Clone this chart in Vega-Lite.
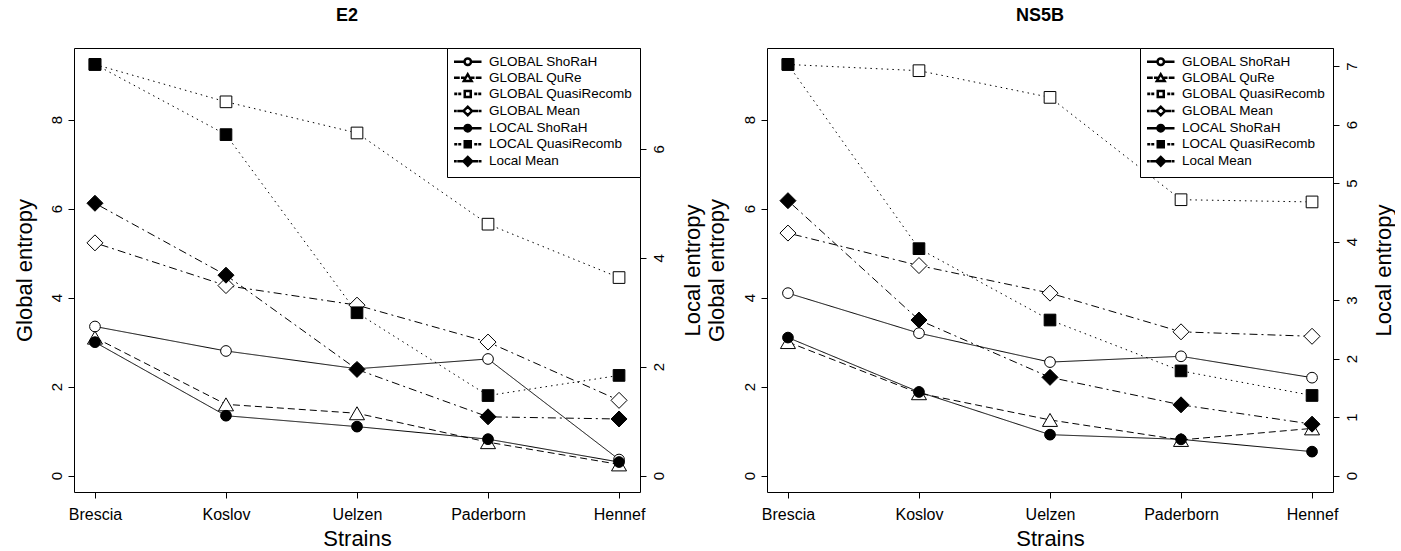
{
  "$schema": "https://vega.github.io/schema/vega-lite/v6.json",
  "background": "white",
  "padding": {"left": 12, "top": 6, "right": 0, "bottom": 0},
  "data": {"values": [
    {"gene":"E2","series":"GLOBAL ShoRaH","strain":"Brescia","value":3.35},
    {"gene":"E2","series":"GLOBAL ShoRaH","strain":"Koslov","value":2.8},
    {"gene":"E2","series":"GLOBAL ShoRaH","strain":"Uelzen","value":2.4},
    {"gene":"E2","series":"GLOBAL ShoRaH","strain":"Paderborn","value":2.62},
    {"gene":"E2","series":"GLOBAL ShoRaH","strain":"Hennef","value":0.36},
    {"gene":"E2","series":"GLOBAL QuRe","strain":"Brescia","value":3.1},
    {"gene":"E2","series":"GLOBAL QuRe","strain":"Koslov","value":1.6},
    {"gene":"E2","series":"GLOBAL QuRe","strain":"Uelzen","value":1.4},
    {"gene":"E2","series":"GLOBAL QuRe","strain":"Paderborn","value":0.75},
    {"gene":"E2","series":"GLOBAL QuRe","strain":"Hennef","value":0.25},
    {"gene":"E2","series":"GLOBAL QuasiRecomb","strain":"Brescia","value":9.24},
    {"gene":"E2","series":"GLOBAL QuasiRecomb","strain":"Koslov","value":8.4},
    {"gene":"E2","series":"GLOBAL QuasiRecomb","strain":"Uelzen","value":7.7},
    {"gene":"E2","series":"GLOBAL QuasiRecomb","strain":"Paderborn","value":5.65},
    {"gene":"E2","series":"GLOBAL QuasiRecomb","strain":"Hennef","value":4.45},
    {"gene":"E2","series":"GLOBAL Mean","strain":"Brescia","value":5.23},
    {"gene":"E2","series":"GLOBAL Mean","strain":"Koslov","value":4.27},
    {"gene":"E2","series":"GLOBAL Mean","strain":"Uelzen","value":3.83},
    {"gene":"E2","series":"GLOBAL Mean","strain":"Paderborn","value":3.0},
    {"gene":"E2","series":"GLOBAL Mean","strain":"Hennef","value":1.69},
    {"gene":"E2","series":"LOCAL ShoRaH","strain":"Brescia","value":2.45},
    {"gene":"E2","series":"LOCAL ShoRaH","strain":"Koslov","value":1.1},
    {"gene":"E2","series":"LOCAL ShoRaH","strain":"Uelzen","value":0.9},
    {"gene":"E2","series":"LOCAL ShoRaH","strain":"Paderborn","value":0.67},
    {"gene":"E2","series":"LOCAL ShoRaH","strain":"Hennef","value":0.25},
    {"gene":"E2","series":"LOCAL QuasiRecomb","strain":"Brescia","value":7.55},
    {"gene":"E2","series":"LOCAL QuasiRecomb","strain":"Koslov","value":6.26},
    {"gene":"E2","series":"LOCAL QuasiRecomb","strain":"Uelzen","value":2.99},
    {"gene":"E2","series":"LOCAL QuasiRecomb","strain":"Paderborn","value":1.47},
    {"gene":"E2","series":"LOCAL QuasiRecomb","strain":"Hennef","value":1.84},
    {"gene":"E2","series":"Local Mean","strain":"Brescia","value":5.0},
    {"gene":"E2","series":"Local Mean","strain":"Koslov","value":3.68},
    {"gene":"E2","series":"Local Mean","strain":"Uelzen","value":1.95},
    {"gene":"E2","series":"Local Mean","strain":"Paderborn","value":1.08},
    {"gene":"E2","series":"Local Mean","strain":"Hennef","value":1.04},
    {"gene":"NS5B","series":"GLOBAL ShoRaH","strain":"Brescia","value":4.1},
    {"gene":"NS5B","series":"GLOBAL ShoRaH","strain":"Koslov","value":3.2},
    {"gene":"NS5B","series":"GLOBAL ShoRaH","strain":"Uelzen","value":2.55},
    {"gene":"NS5B","series":"GLOBAL ShoRaH","strain":"Paderborn","value":2.68},
    {"gene":"NS5B","series":"GLOBAL ShoRaH","strain":"Hennef","value":2.2},
    {"gene":"NS5B","series":"GLOBAL QuRe","strain":"Brescia","value":3.0},
    {"gene":"NS5B","series":"GLOBAL QuRe","strain":"Koslov","value":1.85},
    {"gene":"NS5B","series":"GLOBAL QuRe","strain":"Uelzen","value":1.25},
    {"gene":"NS5B","series":"GLOBAL QuRe","strain":"Paderborn","value":0.8},
    {"gene":"NS5B","series":"GLOBAL QuRe","strain":"Hennef","value":1.06},
    {"gene":"NS5B","series":"GLOBAL QuasiRecomb","strain":"Brescia","value":9.24},
    {"gene":"NS5B","series":"GLOBAL QuasiRecomb","strain":"Koslov","value":9.1},
    {"gene":"NS5B","series":"GLOBAL QuasiRecomb","strain":"Uelzen","value":8.5},
    {"gene":"NS5B","series":"GLOBAL QuasiRecomb","strain":"Paderborn","value":6.2},
    {"gene":"NS5B","series":"GLOBAL QuasiRecomb","strain":"Hennef","value":6.15},
    {"gene":"NS5B","series":"GLOBAL Mean","strain":"Brescia","value":5.45},
    {"gene":"NS5B","series":"GLOBAL Mean","strain":"Koslov","value":4.72},
    {"gene":"NS5B","series":"GLOBAL Mean","strain":"Uelzen","value":4.1},
    {"gene":"NS5B","series":"GLOBAL Mean","strain":"Paderborn","value":3.23},
    {"gene":"NS5B","series":"GLOBAL Mean","strain":"Hennef","value":3.13},
    {"gene":"NS5B","series":"LOCAL ShoRaH","strain":"Brescia","value":2.36},
    {"gene":"NS5B","series":"LOCAL ShoRaH","strain":"Koslov","value":1.43},
    {"gene":"NS5B","series":"LOCAL ShoRaH","strain":"Uelzen","value":0.7},
    {"gene":"NS5B","series":"LOCAL ShoRaH","strain":"Paderborn","value":0.62},
    {"gene":"NS5B","series":"LOCAL ShoRaH","strain":"Hennef","value":0.41},
    {"gene":"NS5B","series":"LOCAL QuasiRecomb","strain":"Brescia","value":7.03},
    {"gene":"NS5B","series":"LOCAL QuasiRecomb","strain":"Koslov","value":3.88},
    {"gene":"NS5B","series":"LOCAL QuasiRecomb","strain":"Uelzen","value":2.66},
    {"gene":"NS5B","series":"LOCAL QuasiRecomb","strain":"Paderborn","value":1.79},
    {"gene":"NS5B","series":"LOCAL QuasiRecomb","strain":"Hennef","value":1.37},
    {"gene":"NS5B","series":"Local Mean","strain":"Brescia","value":4.7},
    {"gene":"NS5B","series":"Local Mean","strain":"Koslov","value":2.66},
    {"gene":"NS5B","series":"Local Mean","strain":"Uelzen","value":1.68},
    {"gene":"NS5B","series":"Local Mean","strain":"Paderborn","value":1.21},
    {"gene":"NS5B","series":"Local Mean","strain":"Hennef","value":0.88}
  ]},
  "spacing": 0,
  "hconcat": [
    {
      "width": 566, "height": 444,
      "title": {"text": "E2", "fontSize": 18, "fontWeight": "bold", "font": "Liberation Sans", "color": "black", "anchor": "middle", "frame": "group", "offset": 23, "dx": -10},
      "transform": [{"filter": "datum.gene === 'E2'"}],
      "encoding": {
        "x": {"field": "strain", "type": "ordinal", "sort": null,
              "scale": {"type": "point", "padding": 0.16, "domain": ["Brescia","Koslov","Uelzen","Paderborn","Hennef"]},
              "axis": {"title": "Strains", "labelAngle": 0, "tickSize": 6, "labelPadding": 8, "titlePadding": 6, "labelFontSize": 16, "titleFontSize": 22}}
      },
      "layer": [
        {
          "transform": [{"filter": "indexof(datum.series, 'GLOBAL') === 0"}],
          "encoding": {
            "y": {"field": "value", "type": "quantitative",
                  "scale": {"domain": [-0.37, 9.61], "nice": false, "zero": false},
                  "axis": {"orient": "left", "values": [0,2,4,6,8], "title": "Global entropy", "tickSize": 6, "labelAngle": 270, "labelAlign": "center", "labelBaseline": "alphabetic", "labelPadding": 7, "labelFontSize": 15, "titleFontSize": 22, "titleAngle": 270, "titleBaseline": "middle", "titleX": -50, "titleY": 222}}
          },
          "layer": [
            {"mark": {"type": "line", "color": "black", "strokeWidth": 1},
             "encoding": {"strokeDash": {"field": "series", "type": "nominal", "legend": null,
               "scale": {"domain": ["Local Mean","LOCAL QuasiRecomb","LOCAL ShoRaH","GLOBAL Mean","GLOBAL QuasiRecomb","GLOBAL QuRe","GLOBAL ShoRaH"],
                         "range": [[2,4,8,4],[1.5,4],[1,0],[2,4,8,4],[1.5,4],[7,4],[1,0]]}}}},
            {"mark": {"type": "point", "filled": true, "fill": "white", "stroke": "black", "strokeWidth": 1, "opacity": 1, "size": 256},
             "encoding": {
               "shape": {"field": "series", "type": "nominal", "legend": null,
                 "scale": {"domain": ["GLOBAL QuRe","GLOBAL ShoRaH","GLOBAL QuasiRecomb","GLOBAL Mean","LOCAL ShoRaH","LOCAL QuasiRecomb","Local Mean"],
                           "range": [
                             "M0,-0.81L-0.94,0.81L0.94,0.81Z",
                             "M0.67,0C0.67,0.37,0.37,0.67,0,0.67C-0.37,0.67,-0.67,0.37,-0.67,0C-0.67,-0.37,-0.37,-0.67,0,-0.67C0.37,-0.67,0.67,-0.37,0.67,0Z",
                             "M-0.73,-0.73L0.73,-0.73L0.73,0.73L-0.73,0.73Z",
                             "M-1,0L0,-1L1,0L0,1Z",
                             "M0.67,0C0.67,0.37,0.37,0.67,0,0.67C-0.37,0.67,-0.67,0.37,-0.67,0C-0.67,-0.37,-0.37,-0.67,0,-0.67C0.37,-0.67,0.67,-0.37,0.67,0Z",
                             "M-0.73,-0.73L0.73,-0.73L0.73,0.73L-0.73,0.73Z",
                             "M-1,0L0,-1L1,0L0,1Z"]}}
             }}
          ]
        },
        {
          "transform": [{"filter": "indexof(datum.series, 'GLOBAL') !== 0"}],
          "encoding": {
            "y": {"field": "value", "type": "quantitative",
                  "scale": {"domain": [-0.30, 7.85], "nice": false, "zero": false},
                  "axis": {"orient": "right", "values": [0,2,4,6], "title": "Local entropy", "tickSize": 6, "labelAngle": 270, "labelAlign": "center", "labelBaseline": "top", "labelPadding": 5, "labelFontSize": 15, "titleFontSize": 22, "titleAngle": 270, "titleBaseline": "middle", "titleX": 52, "titleY": 222}}
          },
          "layer": [
            {"mark": {"type": "line", "color": "black", "strokeWidth": 1},
             "encoding": {"strokeDash": {"field": "series", "type": "nominal", "legend": null,
               "scale": {"domain": ["Local Mean","LOCAL QuasiRecomb","LOCAL ShoRaH","GLOBAL Mean","GLOBAL QuasiRecomb","GLOBAL QuRe","GLOBAL ShoRaH"],
                         "range": [[2,4,8,4],[1.5,4],[1,0],[2,4,8,4],[1.5,4],[7,4],[1,0]]}}}},
            {"mark": {"type": "point", "filled": true, "fill": "black", "stroke": "black", "strokeWidth": 1, "opacity": 1, "size": 256},
             "encoding": {
               "shape": {"field": "series", "type": "nominal", "legend": null,
                 "scale": {"domain": ["GLOBAL QuRe","GLOBAL ShoRaH","GLOBAL QuasiRecomb","GLOBAL Mean","LOCAL ShoRaH","LOCAL QuasiRecomb","Local Mean"],
                           "range": [
                             "M0,-0.81L-0.94,0.81L0.94,0.81Z",
                             "M0.67,0C0.67,0.37,0.37,0.67,0,0.67C-0.37,0.67,-0.67,0.37,-0.67,0C-0.67,-0.37,-0.37,-0.67,0,-0.67C0.37,-0.67,0.67,-0.37,0.67,0Z",
                             "M-0.73,-0.73L0.73,-0.73L0.73,0.73L-0.73,0.73Z",
                             "M-1,0L0,-1L1,0L0,1Z",
                             "M0.67,0C0.67,0.37,0.37,0.67,0,0.67C-0.37,0.67,-0.67,0.37,-0.67,0C-0.67,-0.37,-0.37,-0.67,0,-0.67C0.37,-0.67,0.67,-0.37,0.67,0Z",
                             "M-0.73,-0.73L0.73,-0.73L0.73,0.73L-0.73,0.73Z",
                             "M-1,0L0,-1L1,0L0,1Z"]}}
             }}
          ]
        },
        {
          "transform": [{"filter": "false"}],
          "mark": {"type": "point", "filled": true, "stroke": "black", "strokeWidth": 1, "opacity": 1},
          "encoding": {
            "shape": {"field": "series", "type": "nominal",
              "scale": {"domain": ["GLOBAL ShoRaH","GLOBAL QuRe","GLOBAL QuasiRecomb","GLOBAL Mean","LOCAL ShoRaH","LOCAL QuasiRecomb","Local Mean"],
                        "range": [
                          "M-2.6,-0.1L-0.75,-0.1L-0.75,0.1L-2.6,0.1ZM0.75,-0.1L2.6,-0.1L2.6,0.1L0.75,0.1ZM0.75,0C0.75,0.414,0.414,0.75,0,0.75C-0.414,0.75,-0.75,0.414,-0.75,0C-0.75,-0.414,-0.414,-0.75,0,-0.75C0.414,-0.75,0.75,-0.414,0.75,0ZM0.55,0C0.55,-0.304,0.304,-0.55,0,-0.55C-0.304,-0.55,-0.55,-0.304,-0.55,0C-0.55,0.304,-0.304,0.55,0,0.55C0.304,0.55,0.55,0.304,0.55,0Z",
                          "M-2.6,-0.1L-1.75,-0.1L-1.75,0.1L-2.6,0.1ZM-1.2,-0.1L-0.75,-0.1L-0.75,0.1L-1.2,0.1ZM0.75,-0.1L1.2,-0.1L1.2,0.1L0.75,0.1ZM1.75,-0.1L2.6,-0.1L2.6,0.1L1.75,0.1ZM0,-0.9L0.95,0.72L-0.95,0.72ZM0,-0.55L-0.62,0.52L0.62,0.52Z",
                          "M-2.55,-0.12L-2.25,-0.12L-2.25,0.12L-2.55,0.12ZM-1.75,-0.12L-1.45,-0.12L-1.45,0.12L-1.75,0.12ZM1.45,-0.12L1.75,-0.12L1.75,0.12L1.45,0.12ZM2.25,-0.12L2.55,-0.12L2.55,0.12L2.25,0.12ZM-0.7,-0.7L0.7,-0.7L0.7,0.7L-0.7,0.7ZM-0.5,-0.5L-0.5,0.5L0.5,0.5L0.5,-0.5Z",
                          "M-2.6,-0.1L-2.35,-0.1L-2.35,0.1L-2.6,0.1ZM-1.95,-0.1L-1.1,-0.1L-1.1,0.1L-1.95,0.1ZM1.1,-0.1L1.95,-0.1L1.95,0.1L1.1,0.1ZM2.35,-0.1L2.6,-0.1L2.6,0.1L2.35,0.1ZM-1,0L0,-1L1,0L0,1ZM-0.72,0L0,0.72L0.72,0L0,-0.72Z",
                          "M-2.6,-0.1L-0.75,-0.1L-0.75,0.1L-2.6,0.1ZM0.75,-0.1L2.6,-0.1L2.6,0.1L0.75,0.1ZM0.75,0C0.75,0.414,0.414,0.75,0,0.75C-0.414,0.75,-0.75,0.414,-0.75,0C-0.75,-0.414,-0.414,-0.75,0,-0.75C0.414,-0.75,0.75,-0.414,0.75,0Z",
                          "M-2.55,-0.12L-2.25,-0.12L-2.25,0.12L-2.55,0.12ZM-1.75,-0.12L-1.45,-0.12L-1.45,0.12L-1.75,0.12ZM1.45,-0.12L1.75,-0.12L1.75,0.12L1.45,0.12ZM2.25,-0.12L2.55,-0.12L2.55,0.12L2.25,0.12ZM-0.7,-0.7L0.7,-0.7L0.7,0.7L-0.7,0.7Z",
                          "M-2.6,-0.1L-2.35,-0.1L-2.35,0.1L-2.6,0.1ZM-1.95,-0.1L-1.1,-0.1L-1.1,0.1L-1.95,0.1ZM1.1,-0.1L1.95,-0.1L1.95,0.1L1.1,0.1ZM2.35,-0.1L2.6,-0.1L2.6,0.1L2.35,0.1ZM-1,0L0,-1L1,0L0,1Z"]},
              "legend": {"title": null, "orient": "top-right", "offset": 0, "padding": 7, "rowPadding": 1.1, "symbolOffset": 7, "labelOffset": 14.5, "symbolSize": 100, "labelFontSize": 13.5, "labelFont": "Liberation Sans", "labelColor": "black", "labelLimit": 0, "strokeColor": "black", "fillColor": "white"}},
            "fill": {"field": "series", "type": "nominal",
              "scale": {"domain": ["GLOBAL ShoRaH","GLOBAL QuRe","GLOBAL QuasiRecomb","GLOBAL Mean","LOCAL ShoRaH","LOCAL QuasiRecomb","Local Mean"],
                        "range": ["black","black","black","black","black","black","black"]},
              "legend": {"title": null, "orient": "top-right", "offset": 0, "padding": 7, "rowPadding": 1.1, "symbolOffset": 7, "labelOffset": 14.5, "symbolSize": 100, "labelFontSize": 13.5, "labelFont": "Liberation Sans", "labelColor": "black", "labelLimit": 0, "strokeColor": "black", "fillColor": "white"}}
          }
        }
      ],
      "resolve": {"scale": {"y": "independent", "shape": "independent", "fill": "independent"}, "legend": {"shape": "independent", "fill": "independent"}}
    },
    {
      "width": 566, "height": 444,
      "title": {"text": "NS5B", "fontSize": 18, "fontWeight": "bold", "font": "Liberation Sans", "color": "black", "anchor": "middle", "frame": "group", "offset": 23, "dx": -10},
      "transform": [{"filter": "datum.gene === 'NS5B'"}],
      "encoding": {
        "x": {"field": "strain", "type": "ordinal", "sort": null,
              "scale": {"type": "point", "padding": 0.16, "domain": ["Brescia","Koslov","Uelzen","Paderborn","Hennef"]},
              "axis": {"title": "Strains", "labelAngle": 0, "tickSize": 6, "labelPadding": 8, "titlePadding": 6, "labelFontSize": 16, "titleFontSize": 22}}
      },
      "layer": [
        {
          "transform": [{"filter": "indexof(datum.series, 'GLOBAL') === 0"}],
          "encoding": {
            "y": {"field": "value", "type": "quantitative",
                  "scale": {"domain": [-0.37, 9.61], "nice": false, "zero": false},
                  "axis": {"orient": "left", "values": [0,2,4,6,8], "title": "Global entropy", "tickSize": 6, "labelAngle": 270, "labelAlign": "center", "labelBaseline": "alphabetic", "labelPadding": 7, "labelFontSize": 15, "titleFontSize": 22, "titleAngle": 270, "titleBaseline": "middle", "titleX": -51, "titleY": 222}}
          },
          "layer": [
            {"mark": {"type": "line", "color": "black", "strokeWidth": 1},
             "encoding": {"strokeDash": {"field": "series", "type": "nominal", "legend": null,
               "scale": {"domain": ["Local Mean","LOCAL QuasiRecomb","LOCAL ShoRaH","GLOBAL Mean","GLOBAL QuasiRecomb","GLOBAL QuRe","GLOBAL ShoRaH"],
                         "range": [[2,4,8,4],[1.5,4],[1,0],[2,4,8,4],[1.5,4],[7,4],[1,0]]}}}},
            {"mark": {"type": "point", "filled": true, "fill": "white", "stroke": "black", "strokeWidth": 1, "opacity": 1, "size": 256},
             "encoding": {
               "shape": {"field": "series", "type": "nominal", "legend": null,
                 "scale": {"domain": ["GLOBAL QuRe","GLOBAL ShoRaH","GLOBAL QuasiRecomb","GLOBAL Mean","LOCAL ShoRaH","LOCAL QuasiRecomb","Local Mean"],
                           "range": [
                             "M0,-0.81L-0.94,0.81L0.94,0.81Z",
                             "M0.67,0C0.67,0.37,0.37,0.67,0,0.67C-0.37,0.67,-0.67,0.37,-0.67,0C-0.67,-0.37,-0.37,-0.67,0,-0.67C0.37,-0.67,0.67,-0.37,0.67,0Z",
                             "M-0.73,-0.73L0.73,-0.73L0.73,0.73L-0.73,0.73Z",
                             "M-1,0L0,-1L1,0L0,1Z",
                             "M0.67,0C0.67,0.37,0.37,0.67,0,0.67C-0.37,0.67,-0.67,0.37,-0.67,0C-0.67,-0.37,-0.37,-0.67,0,-0.67C0.37,-0.67,0.67,-0.37,0.67,0Z",
                             "M-0.73,-0.73L0.73,-0.73L0.73,0.73L-0.73,0.73Z",
                             "M-1,0L0,-1L1,0L0,1Z"]}}
             }}
          ]
        },
        {
          "transform": [{"filter": "indexof(datum.series, 'GLOBAL') !== 0"}],
          "encoding": {
            "y": {"field": "value", "type": "quantitative",
                  "scale": {"domain": [-0.28, 7.31], "nice": false, "zero": false},
                  "axis": {"orient": "right", "values": [0,1,2,3,4,5,6,7], "title": "Local entropy", "tickSize": 6, "labelAngle": 270, "labelAlign": "center", "labelBaseline": "top", "labelPadding": 5, "labelFontSize": 15, "titleFontSize": 22, "titleAngle": 270, "titleBaseline": "middle", "titleX": 50, "titleY": 222}}
          },
          "layer": [
            {"mark": {"type": "line", "color": "black", "strokeWidth": 1},
             "encoding": {"strokeDash": {"field": "series", "type": "nominal", "legend": null,
               "scale": {"domain": ["Local Mean","LOCAL QuasiRecomb","LOCAL ShoRaH","GLOBAL Mean","GLOBAL QuasiRecomb","GLOBAL QuRe","GLOBAL ShoRaH"],
                         "range": [[2,4,8,4],[1.5,4],[1,0],[2,4,8,4],[1.5,4],[7,4],[1,0]]}}}},
            {"mark": {"type": "point", "filled": true, "fill": "black", "stroke": "black", "strokeWidth": 1, "opacity": 1, "size": 256},
             "encoding": {
               "shape": {"field": "series", "type": "nominal", "legend": null,
                 "scale": {"domain": ["GLOBAL QuRe","GLOBAL ShoRaH","GLOBAL QuasiRecomb","GLOBAL Mean","LOCAL ShoRaH","LOCAL QuasiRecomb","Local Mean"],
                           "range": [
                             "M0,-0.81L-0.94,0.81L0.94,0.81Z",
                             "M0.67,0C0.67,0.37,0.37,0.67,0,0.67C-0.37,0.67,-0.67,0.37,-0.67,0C-0.67,-0.37,-0.37,-0.67,0,-0.67C0.37,-0.67,0.67,-0.37,0.67,0Z",
                             "M-0.73,-0.73L0.73,-0.73L0.73,0.73L-0.73,0.73Z",
                             "M-1,0L0,-1L1,0L0,1Z",
                             "M0.67,0C0.67,0.37,0.37,0.67,0,0.67C-0.37,0.67,-0.67,0.37,-0.67,0C-0.67,-0.37,-0.37,-0.67,0,-0.67C0.37,-0.67,0.67,-0.37,0.67,0Z",
                             "M-0.73,-0.73L0.73,-0.73L0.73,0.73L-0.73,0.73Z",
                             "M-1,0L0,-1L1,0L0,1Z"]}}
             }}
          ]
        },
        {
          "transform": [{"filter": "false"}],
          "mark": {"type": "point", "filled": true, "stroke": "black", "strokeWidth": 1, "opacity": 1},
          "encoding": {
            "shape": {"field": "series", "type": "nominal",
              "scale": {"domain": ["GLOBAL ShoRaH","GLOBAL QuRe","GLOBAL QuasiRecomb","GLOBAL Mean","LOCAL ShoRaH","LOCAL QuasiRecomb","Local Mean"],
                        "range": [
                          "M-2.6,-0.1L-0.75,-0.1L-0.75,0.1L-2.6,0.1ZM0.75,-0.1L2.6,-0.1L2.6,0.1L0.75,0.1ZM0.75,0C0.75,0.414,0.414,0.75,0,0.75C-0.414,0.75,-0.75,0.414,-0.75,0C-0.75,-0.414,-0.414,-0.75,0,-0.75C0.414,-0.75,0.75,-0.414,0.75,0ZM0.55,0C0.55,-0.304,0.304,-0.55,0,-0.55C-0.304,-0.55,-0.55,-0.304,-0.55,0C-0.55,0.304,-0.304,0.55,0,0.55C0.304,0.55,0.55,0.304,0.55,0Z",
                          "M-2.6,-0.1L-1.75,-0.1L-1.75,0.1L-2.6,0.1ZM-1.2,-0.1L-0.75,-0.1L-0.75,0.1L-1.2,0.1ZM0.75,-0.1L1.2,-0.1L1.2,0.1L0.75,0.1ZM1.75,-0.1L2.6,-0.1L2.6,0.1L1.75,0.1ZM0,-0.9L0.95,0.72L-0.95,0.72ZM0,-0.55L-0.62,0.52L0.62,0.52Z",
                          "M-2.55,-0.12L-2.25,-0.12L-2.25,0.12L-2.55,0.12ZM-1.75,-0.12L-1.45,-0.12L-1.45,0.12L-1.75,0.12ZM1.45,-0.12L1.75,-0.12L1.75,0.12L1.45,0.12ZM2.25,-0.12L2.55,-0.12L2.55,0.12L2.25,0.12ZM-0.7,-0.7L0.7,-0.7L0.7,0.7L-0.7,0.7ZM-0.5,-0.5L-0.5,0.5L0.5,0.5L0.5,-0.5Z",
                          "M-2.6,-0.1L-2.35,-0.1L-2.35,0.1L-2.6,0.1ZM-1.95,-0.1L-1.1,-0.1L-1.1,0.1L-1.95,0.1ZM1.1,-0.1L1.95,-0.1L1.95,0.1L1.1,0.1ZM2.35,-0.1L2.6,-0.1L2.6,0.1L2.35,0.1ZM-1,0L0,-1L1,0L0,1ZM-0.72,0L0,0.72L0.72,0L0,-0.72Z",
                          "M-2.6,-0.1L-0.75,-0.1L-0.75,0.1L-2.6,0.1ZM0.75,-0.1L2.6,-0.1L2.6,0.1L0.75,0.1ZM0.75,0C0.75,0.414,0.414,0.75,0,0.75C-0.414,0.75,-0.75,0.414,-0.75,0C-0.75,-0.414,-0.414,-0.75,0,-0.75C0.414,-0.75,0.75,-0.414,0.75,0Z",
                          "M-2.55,-0.12L-2.25,-0.12L-2.25,0.12L-2.55,0.12ZM-1.75,-0.12L-1.45,-0.12L-1.45,0.12L-1.75,0.12ZM1.45,-0.12L1.75,-0.12L1.75,0.12L1.45,0.12ZM2.25,-0.12L2.55,-0.12L2.55,0.12L2.25,0.12ZM-0.7,-0.7L0.7,-0.7L0.7,0.7L-0.7,0.7Z",
                          "M-2.6,-0.1L-2.35,-0.1L-2.35,0.1L-2.6,0.1ZM-1.95,-0.1L-1.1,-0.1L-1.1,0.1L-1.95,0.1ZM1.1,-0.1L1.95,-0.1L1.95,0.1L1.1,0.1ZM2.35,-0.1L2.6,-0.1L2.6,0.1L2.35,0.1ZM-1,0L0,-1L1,0L0,1Z"]},
              "legend": {"title": null, "orient": "top-right", "offset": 0, "padding": 7, "rowPadding": 1.1, "symbolOffset": 7, "labelOffset": 14.5, "symbolSize": 100, "labelFontSize": 13.5, "labelFont": "Liberation Sans", "labelColor": "black", "labelLimit": 0, "strokeColor": "black", "fillColor": "white"}},
            "fill": {"field": "series", "type": "nominal",
              "scale": {"domain": ["GLOBAL ShoRaH","GLOBAL QuRe","GLOBAL QuasiRecomb","GLOBAL Mean","LOCAL ShoRaH","LOCAL QuasiRecomb","Local Mean"],
                        "range": ["black","black","black","black","black","black","black"]},
              "legend": {"title": null, "orient": "top-right", "offset": 0, "padding": 7, "rowPadding": 1.1, "symbolOffset": 7, "labelOffset": 14.5, "symbolSize": 100, "labelFontSize": 13.5, "labelFont": "Liberation Sans", "labelColor": "black", "labelLimit": 0, "strokeColor": "black", "fillColor": "white"}}
          }
        }
      ],
      "resolve": {"scale": {"y": "independent", "shape": "independent", "fill": "independent"}, "legend": {"shape": "independent", "fill": "independent"}}
    }
  ],
  "resolve": {
    "scale": {"shape": "independent", "strokeDash": "independent", "fill": "independent"},
    "legend": {"shape": "independent", "fill": "independent"}
  },
  "config": {
    "font": "Liberation Sans",
    "view": {"stroke": "black", "strokeWidth": 1},
    "axis": {"grid": false, "domain": false, "ticks": true, "tickColor": "black", "tickWidth": 1, "labelColor": "black", "titleColor": "black", "titleFontWeight": "normal", "labelFont": "Liberation Sans", "titleFont": "Liberation Sans"}
  }
}
